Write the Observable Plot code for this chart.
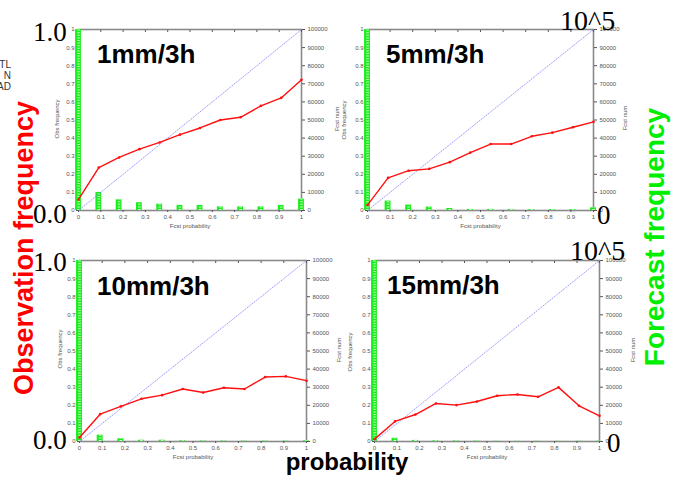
<!DOCTYPE html>
<html>
<head>
<meta charset="utf-8">
<script src="https://cdn.jsdelivr.net/npm/d3@7"></script>
<script src="https://cdn.jsdelivr.net/npm/@observablehq/plot@0.6"></script>
<style>
  html, body { margin: 0; padding: 0; background: #fff; }
  #wrap { position: relative; width: 675px; height: 478px; overflow: hidden; background: #fff; }
  #wrap svg.panel { position: absolute; overflow: visible; }
  #overlay { position: absolute; left: 0; top: 0; pointer-events: none; }
</style>
</head>
<body>
<div id="wrap"></div>
<script>
// ---------- data ----------
const panelTitles = ["1mm/3h", "5mm/3h", "10mm/3h", "15mm/3h"];
const fcstProb = [0, 0.091, 0.182, 0.273, 0.364, 0.455, 0.545, 0.636, 0.727, 0.818, 0.909, 1];
const obsFreq1  = [0.061, 0.237, 0.293, 0.339, 0.376, 0.419, 0.456, 0.500, 0.515, 0.578, 0.622, 0.722];
const obsFreq5  = [0.030, 0.180, 0.220, 0.230, 0.267, 0.320, 0.367, 0.367, 0.410, 0.430, 0.460, 0.490];
const obsFreq10 = [0.022, 0.151, 0.194, 0.236, 0.256, 0.290, 0.271, 0.297, 0.290, 0.356, 0.360, 0.336];
const obsFreq15 = [0.013, 0.111, 0.149, 0.210, 0.201, 0.221, 0.253, 0.260, 0.247, 0.299, 0.197, 0.142];
const fcstNum1  = [100000, 10000, 5900, 4300, 3500, 2800, 2800, 2000, 2000, 2000, 2800, 6300];
const fcstNum5  = [100000, 5200, 3000, 1900, 1100, 600, 600, 500, 500, 500, 500, 1500];
const fcstNum10 = [100000, 3500, 1500, 700, 700, 400, 300, 300, 200, 200, 200, 400];
const fcstNum15 = [100000, 1800, 600, 400, 300, 200, 100, 100, 100, 100, 100, 150];
const leftTicks = [0, 0.1, 0.2, 0.3, 0.4, 0.5, 0.6, 0.7, 0.8, 0.9, 1];
const rightTickLabels = [0, 10000, 20000, 30000, 40000, 50000, 60000, 70000, 80000, 90000, 100000];
const numMax = 100000;

const obsSeries = [obsFreq1, obsFreq5, obsFreq10, obsFreq15];
const numSeries = [fcstNum1, fcstNum5, fcstNum10, fcstNum15];

// ---------- layout (positions only) ----------
const layout = [
  {x0: 78,  y0: 29,  w: 223, h: 181},
  {x0: 367, y0: 29,  w: 226, h: 181},
  {x0: 79,  y0: 260, w: 227, h: 181},
  {x0: 374, y0: 260, w: 225, h: 181}
];
const M = {l: 30, r: 50, t: 8, b: 26};

const wrap = document.getElementById("wrap");
const fontFam = "'Liberation Sans', Arial, Helvetica, sans-serif";

panelTitles.forEach((title, i) => {
  const L = layout[i];
  const line = fcstProb.map((p, k) => ({p, f: obsSeries[i][k]}));
  const bars = fcstProb.map((p, k) => ({p, v: Math.min(numSeries[i][k], numMax) / numMax}));
  const tickMap = new Map(leftTicks.map((t, k) => [t, rightTickLabels[k]]));
  const bw = 0.013;
  const fmt = d => d === 0 || d === 1 ? String(d) : d.toFixed(1);
  const marks = [
    Plot.frame({stroke: "#8a8a8a", strokeWidth: 1.6}),
    Plot.axisX({anchor: "bottom", ticks: leftTicks, tickSize: 2, tickPadding: 2, tickFormat: fmt, label: null, fontSize: 6}),
    Plot.axisX({anchor: "top", ticks: leftTicks, tickSize: -2, tickFormat: () => "", label: null}),
    Plot.axisY({anchor: "left", ticks: leftTicks, tickSize: 2, tickPadding: 2, tickFormat: fmt, label: null, fontSize: 6}),
    Plot.axisY({anchor: "right", ticks: leftTicks, tickSize: 3, tickPadding: 3, tickFormat: d => String(tickMap.get(d) ?? ""), label: null, fontSize: 6}),
    Plot.rect(bars, {x1: d => d.p - bw, x2: d => d.p + bw, y1: 0, y2: "v", fill: "#1aee1a"}),
    Plot.ruleX(bars, {x: "p", y1: 0, y2: "v", stroke: "#c8ffc8", strokeWidth: 2.6, strokeDasharray: "1 1.6"}),
    Plot.link({length: 1}, {x1: 0, y1: 0, x2: 1, y2: 1, stroke: "#6a6aff", strokeWidth: 0.7, strokeDasharray: "1.5 0.8"}),
    Plot.line(line, {x: "p", y: "f", stroke: "#ff1010", strokeWidth: 1.4}),
    Plot.dot(line, {x: "p", y: "f", r: 1.3, fill: "#ff1010"}),
    Plot.text(["Fcst probability"], {frameAnchor: "bottom", dy: 17, fontSize: 6, fill: "#555"})
  ];
  const svg = Plot.plot({
    width: L.w + M.l + M.r,
    height: L.h + M.t + M.b,
    marginLeft: M.l, marginRight: M.r, marginTop: M.t, marginBottom: M.b,
    x: {domain: [0, 1]},
    y: {domain: [0, 1]},
    style: {fontFamily: fontFam, fontSize: "6px", color: "#555", background: "transparent", overflow: "visible"},
    marks
  });
  svg.classList.add("panel");
  svg.style.left = (L.x0 - M.l) + "px";
  svg.style.top = (L.y0 - M.t) + "px";
  wrap.appendChild(svg);
});

// ---------- overlay annotations ----------
const NS = "http://www.w3.org/2000/svg";
const ov = document.createElementNS(NS, "svg");
ov.setAttribute("id", "overlay");
ov.setAttribute("width", 675);
ov.setAttribute("height", 478);
wrap.appendChild(ov);
function txt(s, x, y, opts = {}) {
  const t = document.createElementNS(NS, "text");
  t.textContent = s;
  t.setAttribute("x", x);
  t.setAttribute("y", y);
  t.setAttribute("font-family", opts.family || fontFam);
  t.setAttribute("font-size", opts.size || 12);
  if (opts.weight) t.setAttribute("font-weight", opts.weight);
  t.setAttribute("fill", opts.fill || "#000");
  if (opts.anchor) t.setAttribute("text-anchor", opts.anchor);
  if (opts.rotate) t.setAttribute("transform", `rotate(${opts.rotate} ${x} ${y})`);
  ov.appendChild(t);
}
// small rotated axis titles
const small = {size: 6, fill: "#555", anchor: "middle", rotate: -90};
txt("Obs frequency", 59, 119, small);
txt("Fcst num", 339, 119, small);
txt("Obs frequency", 346, 120, small);
txt("Fcst num", 627, 118, small);
txt("Obs frequency", 62, 349, small);
txt("Fcst num", 341, 350, small);
txt("Obs frequency", 352, 352, small);
txt("Fcst num", 635, 350, small);

const serif = "'Liberation Serif', 'DejaVu Serif', 'Times New Roman', serif";
const titlePos = [[97, 63], [386, 63], [97, 295], [387, 294]];
panelTitles.forEach((t, i) => txt(t, titlePos[i][0], titlePos[i][1], {size: 26, weight: "bold"}));
txt("1.0", 33, 41, {family: serif, size: 27});
txt("0.0", 33, 223, {family: serif, size: 27});
txt("1.0", 33, 271, {family: serif, size: 27});
txt("0.0", 33, 449, {family: serif, size: 27});
txt("10^5", 560, 30, {family: serif, size: 28});
txt("0", 597, 224, {family: serif, size: 27});
txt("10^5", 570, 260, {family: serif, size: 28});
txt("0", 607, 452, {family: serif, size: 27});
txt("Observation frequency", 33, 248, {size: 27, weight: "bold", fill: "#ff0000", anchor: "middle", rotate: -90});
txt("Forecast frequency", 664, 237, {size: 28, weight: "bold", fill: "#00ee00", anchor: "middle", rotate: -90});
txt("probability", 347, 470, {size: 24, weight: "bold", anchor: "middle"});
txt("TL", 11, 68, {size: 10, fill: "#333", anchor: "end"});
txt("N", 11, 79, {size: 10, fill: "#333", anchor: "end"});
txt("AD", 11, 90, {size: 10, fill: "#333", anchor: "end"});
</script>
</body>
</html>
